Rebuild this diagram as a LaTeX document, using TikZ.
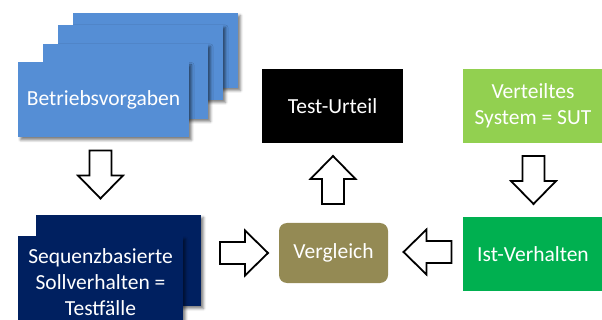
\documentclass[tikz,border=0pt]{standalone}
\usepackage{fontspec}
\setmainfont{Carlito}
\usetikzlibrary{shadows.blur}
\definecolor{vorgabeblue}{HTML}{558ED5}
\definecolor{sollnavy}{HTML}{002060}
\definecolor{vergleicholive}{HTML}{948A54}
\definecolor{sutgreen}{HTML}{92D050}
\definecolor{istgreen}{HTML}{00B050}
\begin{document}
\begin{tikzpicture}[x=1pt,y=-1pt,every node/.style={shape=rectangle,
		text=white,align=center,inner sep=0pt,
		font=\fontsize{21.5}{26}\selectfont},
		boxshadow/.style={blur shadow={shadow xshift=2.5pt,shadow yshift=-2.5pt,
			shadow blur radius=2.5pt,shadow opacity=50}},
		stackbox/.style={fill=vorgabeblue,minimum width=165pt,
			minimum height=75pt,boxshadow},
		sollbox/.style={fill=sollnavy,minimum width=165pt,
			minimum height=91pt,boxshadow},
		flatbox/.style={minimum width=140pt,minimum height=74pt},
		blockarrow/.pic={\draw[line width=1.8pt,fill=white,line join=miter]
			(-24,-11) -- (1,-11) -- (1,-22.5) -- (24,0) -- (1,22.5)
			-- (1,11) -- (-24,11) -- cycle;}]
		\useasboundingbox (0,0) rectangle (602,320);
		% create the nodes
		\node[stackbox] (vorgabe4) at (155.5,50.5) {};
		\node[stackbox] (vorgabe3) at (140.5,62.5) {};
		\node[stackbox] (vorgabe2) at (125.5,81.5) {};
		\node[stackbox,minimum width=171pt] (betriebsvorgaben) at (103.5,100)
			{Betriebsvorgaben};
		\node[sollbox] (sollback) at (118.5,260.5) {};
		\node[sollbox] (sollverhalten) at (100.5,282) {Sequenzbasierte\\
			Sollverhalten =\\Testfälle};
		\node[flatbox,fill=black,minimum width=141pt] (testurteil)
			at (332.5,106) {Test-Urteil};
		\node[flatbox,fill=sutgreen] (sut) at (533,106) {Verteiltes\\
			System = SUT};
		\node[flatbox,fill=istgreen] (istverhalten) at (533,254)
			{Ist-Verhalten};
		\node[fill=vergleicholive,rounded corners=8pt,minimum width=109pt,
			minimum height=60pt] (vergleich) at (333.5,253) {Vergleich};

		% connect the nodes
		\pic[rotate=-90] at (100.5,174.5) {blockarrow};
		\pic at (244,253) {blockarrow};
		\pic[rotate=90] at (333,180) {blockarrow};
		\pic[rotate=-90] at (533.5,180) {blockarrow};
		\pic[rotate=180] at (427.5,252) {blockarrow};

	\end{tikzpicture}
\end{document}
